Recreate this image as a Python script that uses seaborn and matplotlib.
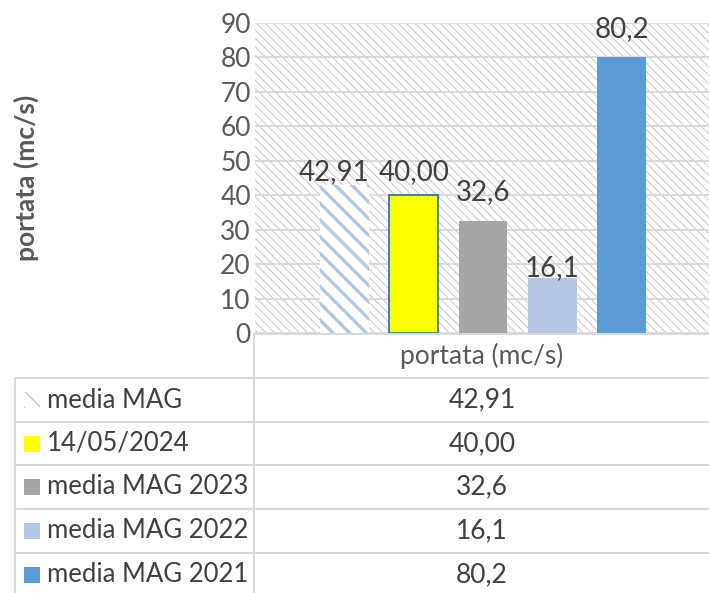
import pandas as pd
import seaborn as sb
import numpy as np
import matplotlib.pyplot as plt
from matplotlib.patches import Rectangle
from matplotlib.lines import Line2D

# data
categoria = "portata (mc/s)"
serie = ["media MAG", "14/05/2024", "media MAG 2023", "media MAG 2022", "media MAG 2021"]
valori = [42.91, 40.00, 32.6, 16.1, 80.2]
etichette = ["42,91", "40,00", "32,6", "16,1", "80,2"]
colori = ["#FFFFFF", "#FFFF00", "#A5A5A5", "#B4C7E7", "#5B9BD5"]
y_ticks = [0, 10, 20, 30, 40, 50, 60, 70, 80, 90]

df = pd.DataFrame({"misura": [categoria] * len(serie), "serie": serie, "portata": valori})

sb.set_style("white")
plt.rcParams['font.family'] = ['Lato', 'DejaVu Sans']

W, H = 709, 593
fig = plt.figure(figsize=(W / 100, H / 100), dpi=100)

def fx(px):
    return px / W

def fy(py):
    return 1 - py / H

ax = fig.add_axes([fx(255), fy(333), fx(456), (333 - 23) / H])

# hatched background
bg = Rectangle((0, 0), 1, 1, transform=ax.transAxes, facecolor="white",
               edgecolor="#C8C8C8", hatch="\\\\\\\\", linewidth=0, zorder=0)
if hasattr(bg, "set_hatch_linewidth"):
    bg.set_hatch_linewidth(0.7)
ax.add_patch(bg)

sb.barplot(data=df, x="misura", y="portata", hue="serie", hue_order=serie,
           palette=colori, saturation=1, width=0.76, gap=0.3, legend=False, ax=ax)

for i, cont in enumerate(ax.containers):
    for p in cont:
        p.set_zorder(2)
        if i == 0:
            p.set_facecolor("white")
            p.set_edgecolor("#B4C7E7")
            p.set_hatch("\\\\")
            p.set_linewidth(0)
            if hasattr(p, "set_hatch_linewidth"):
                p.set_hatch_linewidth(2.4)
        elif i == 1:
            p.set_edgecolor("#2E75B6")
            p.set_linewidth(1.3)
        else:
            p.set_linewidth(0)

ax.set_ylim(0, 90)
ax.set_yticks(y_ticks)
ax.set_xlim(-0.5, 0.5)
ax.set_xticks([])
ax.set_xlabel("")
ax.set_ylabel("")
ax.tick_params(axis="y", labelsize=19, labelcolor="#595959", length=0, pad=3)
ax.yaxis.grid(True, color="#D9D9D9", linewidth=1.5, zorder=1)
ax.set_axisbelow(True)
for s in ax.spines.values():
    s.set_visible(False)

# value labels (nudged like in the original)
label_dx = [-10, 0, 0, 0, 0]
label_dy = [13, 23, 29, 9, 28]
for i, cont in enumerate(ax.containers):
    p = cont[0]
    ax.annotate(etichette[i], (p.get_x() + p.get_width() / 2, p.get_height()),
                xytext=(label_dx[i] * 0.72, label_dy[i] * 0.72), textcoords="offset points",
                ha="center", va="center", fontsize=20, color="#404040", zorder=5)

fig.text(fx(26), fy(178), "portata (mc/s)", rotation=90, ha="center", va="center",
         fontsize=19, fontweight="bold", color="#595959")

# data table under the chart
grid_c = "#D9D9D9"
righe = [378, 422, 465, 509, 553, 597]
fig.add_artist(Line2D([fx(254), fx(712)], [fy(334), fy(334)], color=grid_c, lw=1.5))
for r in righe[:-1]:
    fig.add_artist(Line2D([fx(15), fx(712)], [fy(r), fy(r)], color=grid_c, lw=1.5))
fig.add_artist(Line2D([fx(254), fx(254)], [fy(334), fy(597)], color=grid_c, lw=1.5))
fig.add_artist(Line2D([fx(15), fx(15)], [fy(378), fy(597)], color=grid_c, lw=1.5))

fig.text(fx(482), fy(356), categoria, ha="center", va="center", fontsize=19, color="#595959")
for i in range(len(serie)):
    yc = (righe[i] + righe[i + 1]) / 2
    key = Rectangle((fx(24), fy(yc + 8)), fx(16), 16 / H, transform=fig.transFigure,
                    facecolor=colori[i] if i > 0 else "white",
                    edgecolor="#B4C7E7" if i == 0 else colori[i],
                    hatch="\\\\" if i == 0 else None, linewidth=0)
    fig.add_artist(key)
    fig.text(fx(47), fy(yc), serie[i], ha="left", va="center", fontsize=18.5, color="#404040")
    fig.text(fx(482), fy(yc), etichette[i], ha="center", va="center", fontsize=19, color="#404040")

plt.savefig("out.png", dpi=100)
